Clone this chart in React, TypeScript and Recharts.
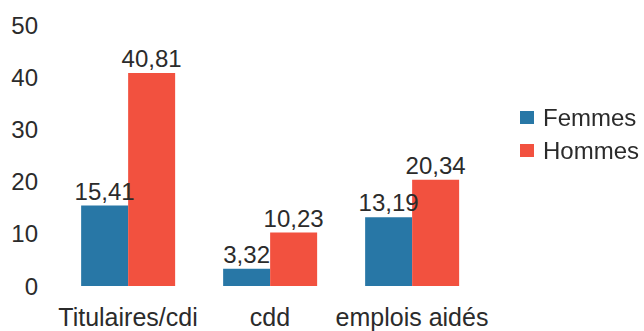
import { Bar, BarChart, LabelList, Legend, XAxis, YAxis } from "recharts";

const categories = ["Titulaires/cdi", "cdd", "emplois aidés"];
const femmes = [15.41, 3.32, 13.19];
const hommes = [40.81, 10.23, 20.34];
const yTicks = [0, 10, 20, 30, 40, 50];

const data = categories.map((name, i) => ({
  name,
  Femmes: femmes[i],
  Hommes: hommes[i],
}));

const font = "'Liberation Sans', Arial, sans-serif";
const textColor = "#2b2b2b";

const fmt = (v: unknown) => String(v).replace(".", ",");

function LegendBox({ payload }: { payload?: Array<{ value: string; color: string }> }) {
  return (
    <div style={{ fontFamily: font, fontSize: 24, color: textColor }}>
      {(payload || []).map((p) => (
        <div key={p.value} style={{ display: "flex", alignItems: "center", height: 33 }}>
          <span
            style={{ width: 14, height: 13, background: p.color, display: "inline-block", marginRight: 9 }}
          />
          <span>{p.value}</span>
        </div>
      ))}
    </div>
  );
}

export default function App() {
  return (
    <div style={{ position: "fixed", left: 0, top: 0, background: "#fff" }}>
      <BarChart
        width={644}
        height={331}
        data={data}
        margin={{ top: 25, right: 31, bottom: 14, left: 0 }}
        barCategoryGap="17%"
        barGap={0}
      >
        <XAxis
          dataKey="name"
          axisLine={false}
          tickLine={false}
          tickSize={0}
          tickMargin={22}
          height={31}
          interval={0}
          tick={{ fill: textColor, fontSize: 25, fontFamily: font }}
        />
        <YAxis
          domain={[0, 50]}
          ticks={yTicks}
          axisLine={false}
          tickLine={false}
          tickSize={0}
          tickMargin={19}
          width={57}
          tick={{ fill: textColor, fontSize: 24, fontFamily: font }}
        />
        <Legend
          layout="vertical"
          verticalAlign="top"
          align="right"
          wrapperStyle={{ left: 520, top: 101, width: 130 }}
          content={<LegendBox />}
        />
        <Bar dataKey="Femmes" fill="#2877a6" isAnimationActive={false}>
          <LabelList
            dataKey="Femmes"
            position="top"
            offset={6}
            formatter={fmt}
            style={{ fill: textColor, fontSize: 24, fontFamily: font }}
          />
        </Bar>
        <Bar dataKey="Hommes" fill="#f2513f" isAnimationActive={false}>
          <LabelList
            dataKey="Hommes"
            position="top"
            offset={6}
            formatter={fmt}
            style={{ fill: textColor, fontSize: 24, fontFamily: font }}
          />
        </Bar>
      </BarChart>
    </div>
  );
}
